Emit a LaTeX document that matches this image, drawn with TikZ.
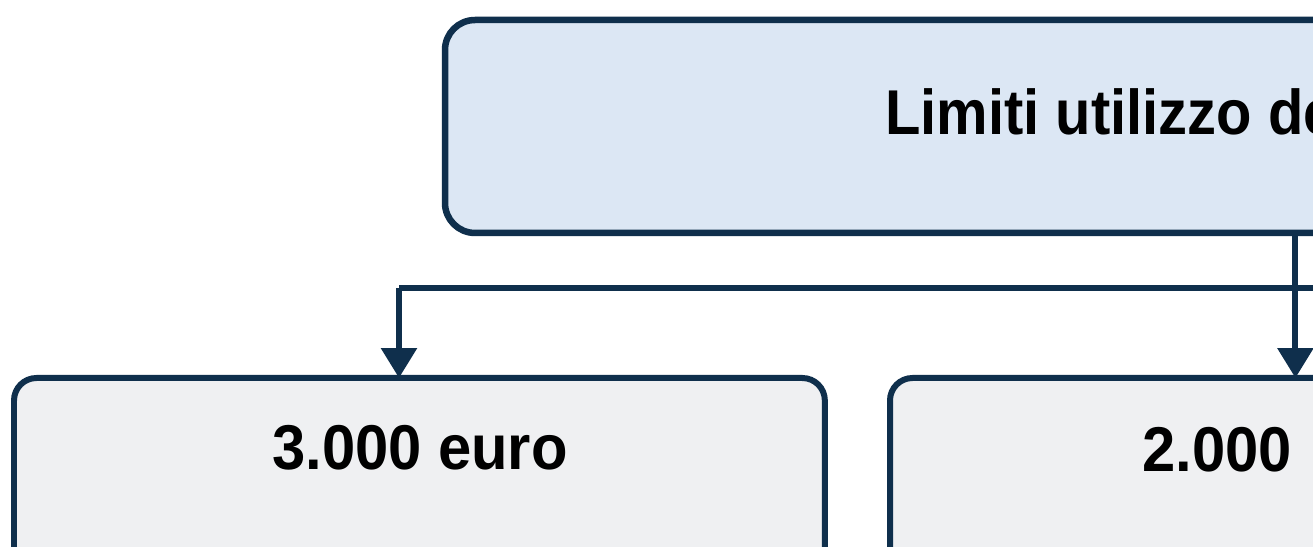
\documentclass[tikz,border=0pt]{standalone}
\usepackage{fontspec}
\setmainfont{Liberation Sans}
\usetikzlibrary{arrows.meta}
\definecolor{navy}{HTML}{0F2F4C}
\definecolor{topfill}{HTML}{DCE7F4}
\definecolor{boxfill}{HTML}{EFF0F2}
\tikzset{
    topbox/.style={draw=navy,fill=topfill,line width=0.13cm,rounded corners=0.6cm,
        outer sep=0pt,inner sep=0pt,anchor=north west},
    amountbox/.style={draw=navy,fill=boxfill,line width=0.12cm,rounded corners=0.45cm,
        outer sep=0pt,inner sep=0pt,anchor=north west,
        minimum width=16.22cm,minimum height=6cm},
    boxtext/.style={font=\fontsize{34}{40}\selectfont\bfseries,inner sep=0pt,yscale=1.06},
    flow/.style={draw=navy,line width=0.12cm,-{Triangle[width=0.7cm,length=0.6cm]}},
    flowline/.style={draw=navy,line width=0.12cm}
}
\begin{document}
\begin{tikzpicture}[x=0.02cm,y=-0.02cm]
        \useasboundingbox (0,0) rectangle (1313,547);
        \fill[white] (0,0) rectangle (1313,547);
        \clip (0,0) rectangle (1313,547);
        \node[topbox,minimum width=21.1cm,minimum height=4.26cm] (limiti) at (445,20) {};
        \node[boxtext,xscale=0.97,anchor=base west] (limititxt) at (885,135) {Limiti utilizzo de};
        \node[amountbox] (tremila) at (14,378) {};
        \node[boxtext,anchor=base] (tremilatxt) at (420,470) {3.000 euro};
        \node[amountbox] (duemila) at (890,378) {};
        \node[boxtext,anchor=base west] (duemilatxt) at (1142,472) {2.000};
        \coordinate (bivio) at (399,288);
        \coordinate (fuori) at (1400,288);
        \draw[flowline] (bivio) -- (fuori);
        \draw[flow] (bivio) -- (bivio |- tremila.north);
        \draw[flow] (limiti.south -| duemila.north) -- (duemila.north);
    \end{tikzpicture}
\end{document}
